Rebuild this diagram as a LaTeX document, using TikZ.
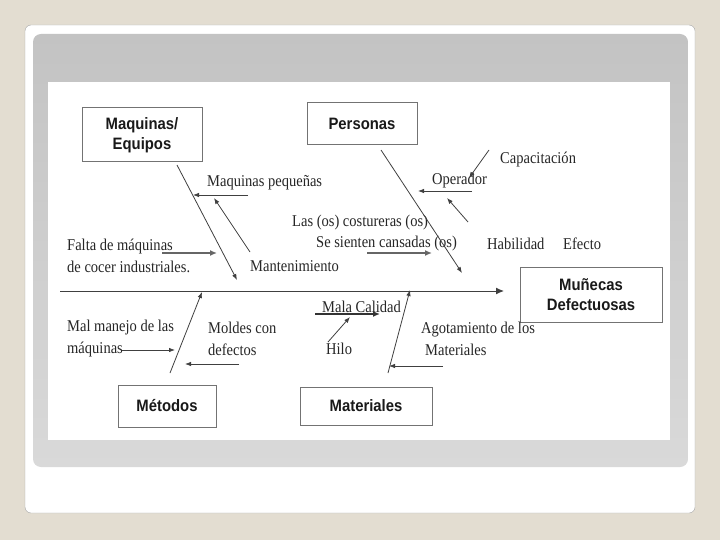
\documentclass[tikz,border=0pt]{standalone}
\usepackage{fontspec}
\setmainfont{Liberation Serif}
\newfontfamily\lblfont[FakeStretch=0.88]{Liberation Serif}
\newfontfamily\boxfont[FakeStretch=0.9]{Liberation Sans}
\usetikzlibrary{arrows.meta}

\definecolor{slidebg}{HTML}{E3DDD1}
\definecolor{slidegrayA}{HTML}{C3C3C3}
\definecolor{slidegrayB}{HTML}{D9D9D9}

\tikzset{
  causebox/.style={draw=black!55, line width=1pt, fill=white, inner sep=0pt,
    align=center, text=black!90, font=\boxfont\bfseries\fontsize{16.5}{20}\selectfont},
  lbl/.style={anchor=west, inner sep=0pt, align=left, text=black!85,
    font=\lblfont\fontsize{16.5}{22}\selectfont},
  bone/.style={draw=black!75, line width=0.8pt, -{Latex[length=6pt,width=4.5pt]}},
  fatbone/.style={draw=black!60, line width=2pt, -{Latex[length=7pt,width=6pt]}},
  spine/.style={draw=black!75, line width=1pt, -{Latex[length=8pt,width=7pt]}}
}

\begin{document}
\begin{tikzpicture}[x=1pt,y=-1pt]
  % slide frame
  \useasboundingbox (0,0) rectangle (720,540);
  \fill[slidebg] (0,0) rectangle (720,540);
  \draw[black!35, fill=white, rounded corners=6] (25,25) rectangle (695,513);
  \shade[top color=slidegrayA, bottom color=slidegrayB, rounded corners=8] (33,34) rectangle (688,467);
  \fill[white] (48,82) rectangle (670,440);

  % boxes
  \node[causebox, minimum width=120, minimum height=54] (maq) at (142,135) {Maquinas/\\Equipos};
  \node[causebox, minimum width=110, minimum height=42] (per) at (362,124) {Personas};
  \node[causebox, minimum width=142, minimum height=55] (efe) at (591,295) {Muñecas\\Defectuosas};
  \node[causebox, minimum width=98, minimum height=42] (met) at (167,406) {Métodos};
  \node[causebox, minimum width=132, minimum height=38] (mat) at (366,406) {Materiales};

  % labels
  \node[lbl] (tMaqPeq) at (207,183) {Maquinas pequeñas};
  \node[lbl] (tMant) at (250,266) {Mantenimiento};
  \node[lbl] (tFalta) at (67,256) {Falta de máquinas\\de cocer industriales.};
  \node[lbl] (tCapac) at (500,160) {Capacitación};
  \node[lbl] (tOper) at (432,181) {Operador};
  \node[lbl] (tLas) at (292,223) {Las (os) costureras (os)};
  \node[lbl] (tSe) at (316,244) {Se sienten cansadas (os)};
  \node[lbl] (tHab) at (487,244) {Habilidad};
  \node[lbl] (tEfecto) at (563,244) {Efecto};
  \node[lbl] (tMal) at (67,339) {Mal manejo de las\\máquinas};
  \node[lbl] (tMold) at (208,339) {Moldes con\\defectos};
  \node[lbl] (tCal) at (322,307) {Mala Calidad};
  \node[lbl] (tHilo) at (326,349) {Hilo};
  \node[lbl] (tAgot) at (421,339) {Agotamiento de los\\\hspace{4pt}Materiales};

  % bone ends
  \coordinate (spineL) at (60,291);
  \coordinate (spineR) at (504,291);
  \coordinate (maqA) at (177,165);
  \coordinate (maqB) at (237,280);
  \coordinate (perA) at (381,150);
  \coordinate (perB) at (462,273);
  \coordinate (metA) at (170,373);
  \coordinate (metB) at (202,292);
  \coordinate (matA) at (388,373);
  \coordinate (matB) at (410,290);
  \coordinate (mantA) at (250,252);
  \coordinate (mantB) at (214,198);
  \coordinate (pequeA) at (248,195);
  \coordinate (pequeB) at (193,195);
  \coordinate (faltaA) at (162,253);
  \coordinate (faltaB) at (217,253);
  \coordinate (capA) at (489,150);
  \coordinate (capB) at (469,178);
  \coordinate (operA) at (472,191);
  \coordinate (operB) at (418,191);
  \coordinate (habA) at (468,222);
  \coordinate (habB) at (447,198);
  \coordinate (cansA) at (367,253);
  \coordinate (cansB) at (432,253);
  \coordinate (malA) at (122,350);
  \coordinate (malB) at (175,350);
  \coordinate (moldA) at (239,364);
  \coordinate (moldB) at (185,364);
  \coordinate (calA) at (315,314);
  \coordinate (calB) at (380,314);
  \coordinate (hiloA) at (328,342);
  \coordinate (hiloB) at (350,317);
  \coordinate (agotA) at (443,366);
  \coordinate (agotB) at (389,366);

  % bones
  \draw[spine] (spineL) -- (spineR);
  \draw[bone] (maqA) -- (maqB);
  \draw[bone] (perA) -- (perB);
  \draw[bone] (metA) -- (metB);
  \draw[bone] (matA) -- (matB);
  \draw[bone] (mantA) -- (mantB);
  \draw[bone] (pequeA) -- (pequeB);
  \draw[fatbone] (faltaA) -- (faltaB);
  \draw[bone] (capA) -- (capB);
  \draw[bone] (operA) -- (operB);
  \draw[bone] (habA) -- (habB);
  \draw[fatbone] (cansA) -- (cansB);
  \draw[bone] (malA) -- (malB);
  \draw[bone] (moldA) -- (moldB);
  \draw[fatbone, draw=black!80] (calA) -- (calB);
  \draw[bone] (hiloA) -- (hiloB);
  \draw[bone] (agotA) -- (agotB);
\end{tikzpicture}
\end{document}
